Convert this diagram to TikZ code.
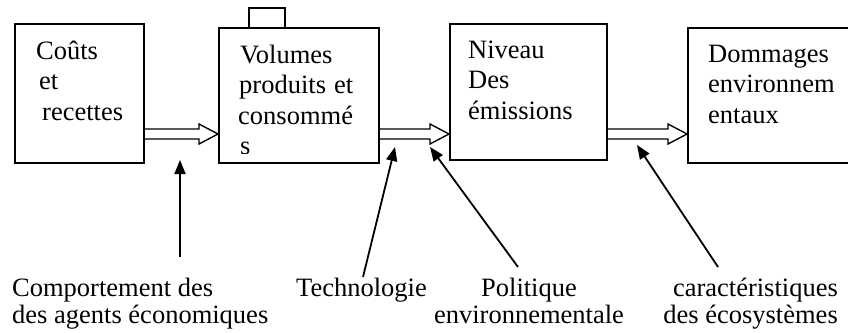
\documentclass[tikz,border=0pt]{standalone}
\usepackage{fontspec}
\setmainfont{Liberation Serif}
\usetikzlibrary{arrows.meta,calc}
\newcommand\hollowarr[2]{\draw[hollow] let \p1=(#1), \p2=(#2) in (\x1,\y1+5pt) -- (\x2-19pt,\y1+5pt) -- (\x2-19pt,\y1+10pt) -- (\x2,\y1) -- (\x2-19pt,\y1-10pt) -- (\x2-19pt,\y1-5pt) -- (\x1,\y1-5pt);}
\begin{document}
\begin{tikzpicture}[x=1pt,y=-1pt,
  box/.style={draw, line width=1.6pt, inner sep=0, anchor=north west},
  txt/.style={inner sep=0, font=\fontsize{26.5}{30.5}\selectfont},
  hollow/.style={line width=1.4pt, line join=miter},
  ptr/.style={line width=1.8pt, -{Triangle[length=14pt,width=11pt]}}]
\useasboundingbox (0,0) rectangle (848,332);
\clip (0,0) rectangle (848,332);
% boxes
\node[box, minimum width=129, minimum height=139] (b1) at (14,23) {};
\node[box, minimum width=160, minimum height=135] (b2) at (218,27) {};
\node[box, minimum width=36, minimum height=20] (tab) at (248,7) {};
\node[box, minimum width=157, minimum height=136] (b3) at (449,23) {};
\node[box, minimum width=173, minimum height=135] (b4) at (687,27) {};
% box texts
\node[txt, anchor=base west] (t1) at (36,59) {\vtop{\baselineskip=30.5pt\hbox{Coûts}\hbox{\kern3pt et}\hbox{\kern6pt recettes}}};
\begin{scope}
\clip (218,27) rectangle (378,153);
\node[txt, anchor=base west] (t2) at (240,63) {\vtop{\baselineskip=30.5pt\hbox{Volumes}\hbox{\kern-1pt produits\kern8pt et}\hbox{\kern-2pt consommé}\hbox{s}}};
\end{scope}
\node[txt, anchor=base west] (t3) at (468,58) {\vtop{\baselineskip=30.5pt\hbox{Niveau}\hbox{Des}\hbox{émissions}}};
\node[txt, anchor=base west] (t4) at (708,62) {\vtop{\baselineskip=30.5pt\hbox{Dommages}\hbox{environnem}\hbox{entaux}}};
% hollow arrows
\coordinate (h1s) at ($(b1.north east)+(0,111)$);
\coordinate (h1e) at ($(b2.north west)+(0,107)$);
\coordinate (h2s) at ($(b2.north east)+(0,107)$);
\coordinate (h2e) at ($(b3.north west)+(0,111)$);
\coordinate (h3s) at ($(b3.north east)+(0,111)$);
\coordinate (h3e) at ($(b4.north west)+(0,107)$);
\hollowarr{h1s}{h1e}
\hollowarr{h2s}{h2e}
\hollowarr{h3s}{h3e}
% bottom labels
\node[txt, anchor=base west] (l1) at (12,296) {\vtop{\baselineskip=27pt\hbox{Comportement des}\hbox{des agents économiques}}};
\node[txt, anchor=base west] (l2) at (296,296) {Technologie};
\node[txt, anchor=base] (l3) at (529,296) {\vtop{\baselineskip=27pt\halign{\hfil#\hfil\cr Politique\cr environnementale\cr}}};
\node[txt, anchor=base east] (l4) at (838,296) {\vtop{\baselineskip=27pt\halign{\hfil#\cr caractéristiques\cr des écosystèmes\cr}}};
% pointer arrows
\coordinate (p1s) at (180,257); \coordinate (p1e) at (180,160);
\coordinate (p2s) at (363,277); \coordinate (p2e) at (395,147);
\coordinate (p3s) at (518,267); \coordinate (p3e) at (430,147);
\coordinate (p4s) at (718,267); \coordinate (p4e) at (637,145);
\draw[ptr] (p1s) -- (p1e);
\draw[ptr] (p2s) -- (p2e);
\draw[ptr] (p3s) -- (p3e);
\draw[ptr] (p4s) -- (p4e);
\end{tikzpicture}
\end{document}
